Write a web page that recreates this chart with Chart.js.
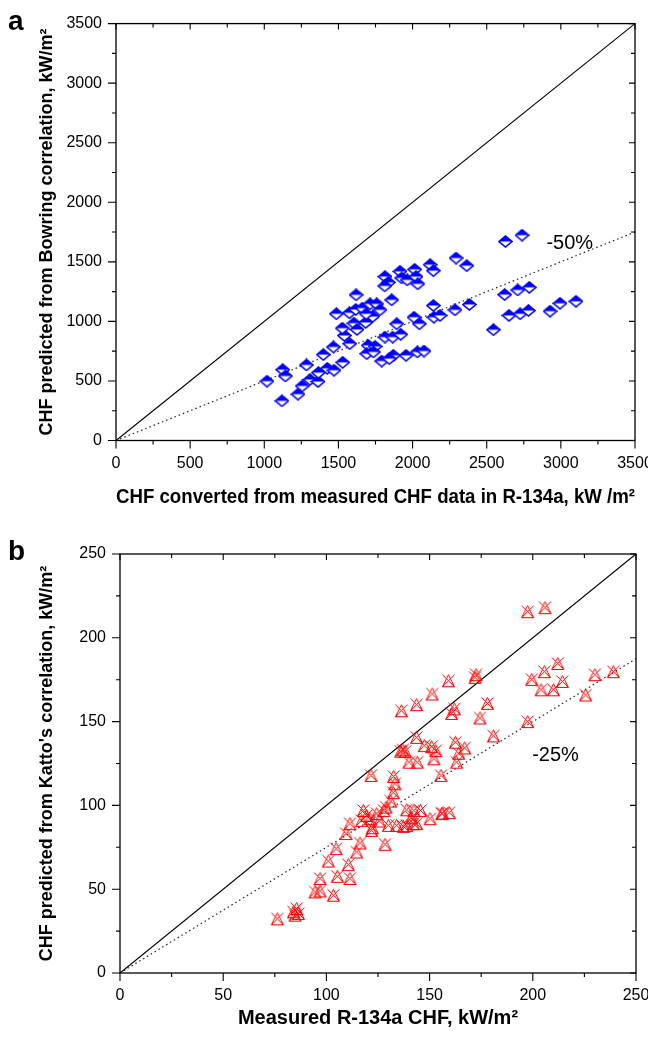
<!DOCTYPE html>
<html>
<head>
<meta charset="utf-8">
<script src="https://cdn.jsdelivr.net/npm/chart.js@4.4.1/dist/chart.umd.min.js"></script>
<style>
  html, body { margin: 0; padding: 0; background: #fff; }
  canvas { display: block; }
</style>
</head>
<body>
<canvas id="chart-a" width="648" height="520"></canvas>
<canvas id="chart-b" width="648" height="517"></canvas>
<script>
// PANEL A - Bowring correlation vs converted measured CHF (kW/m2)
const aMeasured = [
  1018, 1119, 1124, 1142, 1227, 1256, 1284, 1308, 1362, 1365, 1398, 1425, 1470, 1466,
  1529, 1540, 1526, 1576, 1486, 1574, 1619, 1605, 1625, 1617, 1661, 1684, 1713, 1701,
  1691, 1747, 1731, 1758, 2626, 2738, 2293, 2365, 2118, 2140, 2014, 1915, 1927, 1964,
  2023, 2035, 1814, 1837, 1812, 1859, 1780, 1687, 1893, 1814, 1866, 1920, 1870, 1792,
  1843, 1956, 2032, 2077, 2010, 2046, 2140, 2144, 2185, 2286, 2383, 2545, 2621, 2709,
  2787, 2650, 2725, 2781, 2927, 2994, 3102, 1736
];
const aBowring = [
  498, 333, 595, 542, 389, 458, 634, 512, 495, 570, 721, 606, 590, 785,
  656, 882, 943, 813, 1064, 1072, 1223, 985, 932, 1100, 1111, 991, 1147, 799,
  729, 790, 1041, 1147, 1671, 1724, 1532, 1468, 1476, 1426, 1437, 1420, 1365, 1348,
  1376, 1315, 1376, 1328, 1298, 1181, 1097, 1064, 980, 868, 868, 891, 715, 667,
  687, 715, 743, 751, 1035, 980, 1133, 1035, 1050, 1097, 1142, 930, 1225, 1264,
  1286, 1050, 1064, 1091, 1086, 1152, 1169, 743
];
const aLineX = [0, 3500];
const aOneToOne = [0, 3500];
const aMinus50 = [0, 1750];
const aNote = { text: "-50%", x: 3060, y: 1650 };

// PANEL B - Katto correlation vs measured R-134a CHF (kW/m2)
const bMeasured = [
  172.5, 172, 159.1, 151.2, 143.7, 136.3, 162, 160.7, 178, 174.4, 180.9, 143.7, 137, 136,
  138.2, 147.4, 151, 153, 152.1, 162.5, 167, 164.1, 163.1, 140, 144, 155.5, 121.6, 132.6,
  133.2, 132.4, 131.2, 128.9, 127.9, 117.9, 119.5, 121.1, 122.2, 117.1, 138.9, 142.4, 145.6, 141.3,
  143.7, 150.2, 156.3, 159.5, 130, 134, 137.3, 111.4, 109.5, 124.4, 125.6,
  76.2, 84, 85.6, 84.8, 86.4, 94.5, 96.9, 103.4, 96.9, 105.3, 111.4, 100.9, 110.6, 104.7,
  114.7, 116.3, 128.4, 121.9, 138.9, 142.1, 155.9,
  197.5, 205.9, 199.5, 205.6, 212.1, 214.3, 204, 210, 225.6, 230.1, 239, 197.5
];
const bKatto = [
  178, 176.4, 174.4, 166.5, 160.1, 156.5, 157.6, 154.9, 160.9, 152.2, 141.5, 140.6, 133.1, 132.3,
  132.3, 135.7, 135.1, 132.7, 127.8, 137.7, 134.3, 131.1, 125.8, 125.8, 125.8, 117.9, 117.9, 117.3,
  112.9, 107.6, 102.6, 99, 97, 97, 94, 92.1, 86.7, 91.1, 97.4, 97, 97, 92.7,
  89.1, 92.1, 95.4, 95.7, 88.1, 88.1, 87.5, 89.1, 83.2, 95.1, 90.7,
  32.3, 36.5, 38.5, 34.5, 35.5, 48.4, 49, 46.4, 56.4, 57.7, 56.4, 66.8, 64.7, 74.2,
  72.2, 77.6, 76.8, 85.1, 88.1, 89.1, 95.1,
  215.6, 218, 175.2, 179.8, 184.7, 174, 169, 169, 165.9, 178, 179.8, 150
];
const bLineX = [0, 250];
const bOneToOne = [0, 250];
const bMinus25 = [0, 187.5];
const bNote = { text: "-25%", x: 211, y: 130 };

const FONT = "'Liberation Sans', Arial, Helvetica, sans-serif";
Chart.defaults.font.family = FONT;
Chart.defaults.color = "#000";

// half filled blue diamond
const diamond = document.createElement("canvas");
diamond.width = 15;
diamond.height = 13;
(function () {
  const c = diamond.getContext("2d");
  c.beginPath();
  c.moveTo(1, 6.5); c.lineTo(7.5, 1); c.lineTo(14, 6.5); c.lineTo(7.5, 12); c.closePath();
  c.fillStyle = "#fff";
  c.fill();
  c.beginPath();
  c.moveTo(1, 6.5); c.lineTo(7.5, 1); c.lineTo(14, 6.5); c.closePath();
  c.fillStyle = "#0000ff";
  c.fill();
  c.beginPath();
  c.moveTo(1, 6.5); c.lineTo(7.5, 1); c.lineTo(14, 6.5); c.lineTo(7.5, 12); c.closePath();
  c.strokeStyle = "#0000ff";
  c.lineWidth = 1.6;
  c.stroke();
})();

// red triangle + cross marker
const starTri = document.createElement("canvas");
starTri.width = 15;
starTri.height = 15;
(function () {
  const c = starTri.getContext("2d");
  c.strokeStyle = "#ff0000";
  c.lineWidth = 1;
  c.beginPath();
  c.moveTo(1.5, 1.5); c.lineTo(13.5, 13.5);
  c.moveTo(1.5, 13.5); c.lineTo(13.5, 1.5);
  c.moveTo(7.5, 1.5); c.lineTo(13.5, 13.5); c.lineTo(1.5, 13.5); c.closePath();
  c.stroke();
})();

const toPoints = (xs, ys) => xs.map((x, i) => ({ x: x, y: ys[i] }));

// frame, inward/outward tick marks, note text and panel letter
const frameTicks = {
  id: "frameTicks",
  afterDatasetsDraw(chart, args, opts) {
    const { ctx, chartArea: a, scales } = chart;
    const x = scales.x, y = scales.y;
    ctx.save();
    ctx.strokeStyle = "#000";
    ctx.lineWidth = 1.3;
    ctx.strokeRect(a.left, a.top, a.right - a.left, a.bottom - a.top);
    ctx.lineWidth = 1.1;
    ctx.beginPath();
    for (let v = 0; v <= opts.max + 1e-6; v += opts.minor) {
      const isMajor = Math.abs(v / opts.major - Math.round(v / opts.major)) < 1e-6;
      const out = isMajor ? 8 : 4;
      const inn = isMajor ? 6 : 4;
      const px = x.getPixelForValue(v);
      ctx.moveTo(px, a.bottom); ctx.lineTo(px, a.bottom + out);
      ctx.moveTo(px, a.top); ctx.lineTo(px, a.top + inn);
      const py = y.getPixelForValue(v);
      ctx.moveTo(a.left, py); ctx.lineTo(a.left - out, py);
      ctx.moveTo(a.right, py); ctx.lineTo(a.right - inn, py);
    }
    ctx.stroke();
    ctx.fillStyle = "#000";
    ctx.font = "20px " + FONT;
    ctx.textAlign = "center";
    ctx.textBaseline = "middle";
    ctx.fillText(opts.note.text, x.getPixelForValue(opts.note.x), y.getPixelForValue(opts.note.y));
    ctx.font = "bold 28px " + FONT;
    ctx.textAlign = "left";
    ctx.textBaseline = "alphabetic";
    ctx.fillText(opts.letter, 8, opts.letterY);
    ctx.restore();
  }
};

function makePanel(id, cfg) {
  return new Chart(document.getElementById(id), {
    type: "scatter",
    data: {
      datasets: [
        {
          data: toPoints(cfg.xs, cfg.ys),
          pointStyle: cfg.marker,
          borderColor: cfg.color,
          backgroundColor: cfg.color
        },
        {
          data: toPoints(cfg.lineX, cfg.oneToOne),
          showLine: true,
          pointRadius: 0,
          borderColor: "#000",
          borderWidth: 1.2
        },
        {
          data: toPoints(cfg.lineX, cfg.minus),
          showLine: true,
          pointRadius: 0,
          borderColor: "#222",
          borderWidth: 1.2,
          borderDash: [1.5, 3]
        }
      ]
    },
    options: {
      responsive: false,
      animation: false,
      layout: { padding: cfg.padding },
      plugins: {
        legend: { display: false },
        tooltip: { enabled: false },
        frameTicks: {
          max: cfg.max, major: cfg.major, minor: cfg.minor,
          note: cfg.note, letter: cfg.letter, letterY: cfg.letterY
        }
      },
      scales: {
        x: {
          type: "linear",
          min: 0,
          max: cfg.max,
          grid: { display: false, drawTicks: false },
          border: { display: false },
          ticks: {
            stepSize: cfg.major, maxRotation: 0, autoSkip: false, padding: 13,
            font: { size: 16 }, callback: (v) => String(v)
          },
          title: {
            display: true,
            text: cfg.xTitle,
            font: { size: 20, weight: "bold" },
            padding: { top: 0, bottom: cfg.xTitlePad }
          },
          afterFit: (s) => { s.height = cfg.xHeight; s.paddingLeft = 0; s.paddingRight = 0; }
        },
        y: {
          type: "linear",
          min: 0,
          max: cfg.max,
          grid: { display: false, drawTicks: false },
          border: { display: false },
          ticks: {
            stepSize: cfg.major, autoSkip: false, padding: 14,
            font: { size: 16 }, callback: (v) => String(v)
          },
          title: {
            display: true,
            text: cfg.yTitle,
            font: { size: 18, weight: "bold" },
            padding: { top: 36, bottom: 0 }
          },
          afterFit: (s) => { s.width = cfg.yWidth; }
        }
      }
    },
    plugins: [frameTicks]
  });
}

makePanel("chart-a", {
  xs: aMeasured, ys: aBowring, lineX: aLineX, oneToOne: aOneToOne, minus: aMinus50,
  marker: diamond, color: "#0000ff", max: 3500, major: 500, minor: 250,
  note: aNote, letter: "a", letterY: 30,
  padding: { top: 22, right: 13, left: 0, bottom: 0 },
  xHeight: 79.5, yWidth: 116, xTitlePad: 11,
  xTitle: "CHF converted from measured CHF data in R-134a, kW /m²",
  yTitle: "CHF predicted from Bowring correlation, kW/m²"
});

makePanel("chart-b", {
  xs: bMeasured, ys: bKatto, lineX: bLineX, oneToOne: bOneToOne, minus: bMinus25,
  marker: starTri, color: "#ff0000", max: 250, major: 50, minor: 25,
  note: bNote, letter: "b", letterY: 40,
  padding: { top: 34, right: 12, left: 0, bottom: 0 },
  xHeight: 64, yWidth: 120, xTitlePad: 7,
  xTitle: "Measured R-134a CHF, kW/m²",
  yTitle: "CHF predicted from Katto's correlation, kW/m²"
});
</script>
</body>
</html>
